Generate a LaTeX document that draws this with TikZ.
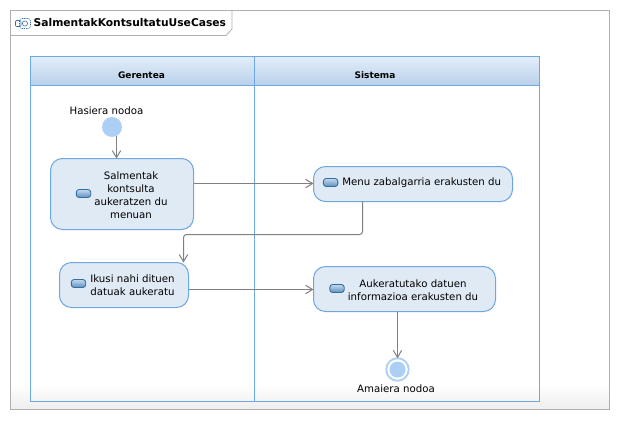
\documentclass[tikz,border=0pt]{standalone}
\usepackage{fontspec}
\setmainfont{DejaVu Sans}
\usetikzlibrary{arrows.meta,shadings,calc}
\definecolor{laneblue}{HTML}{6FA7E0}
\definecolor{boxfill}{HTML}{E0EAF5}
\definecolor{flowgray}{HTML}{808080}
\definecolor{framegray}{HTML}{B0B0B0}
\definecolor{nodeblue}{HTML}{ABCFF5}
\definecolor{headtop}{HTML}{E2EEFA}
\definecolor{headbot}{HTML}{B9D1EA}
\definecolor{pilltop}{HTML}{C6D9EB}
\definecolor{pillbot}{HTML}{5E90BC}
\definecolor{pillline}{HTML}{2F6FA8}
\definecolor{iconblue}{HTML}{3A6EA8}
\tikzset{
  x=1pt,y=-1pt,
  actbox/.style={draw=laneblue,fill=boxfill,line width=1pt,rounded corners=12pt,rectangle,inner sep=0pt,outer sep=0pt},
  acttext/.style={font=\fontsize{10.2}{13}\selectfont,align=center,inner sep=0pt,text=black},
  flow/.style={draw=flowgray,line width=1pt,rounded corners=3pt,-{Straight Barb[length=7pt,width=8.5pt,line width=1pt]}},
  pill/.style={rectangle,rounded corners=2.8pt,minimum width=14.4pt,minimum height=8pt,inner sep=0pt,draw=pillline,line width=0.9pt,top color=pilltop,bottom color=pillbot},
  lanehead/.style={font=\fontsize{9}{12}\bfseries\selectfont,inner sep=0pt},
}
\begin{document}
\begin{tikzpicture}
\useasboundingbox (0,0) rectangle (620,420);
\fill[white] (0,0) rectangle (620,420);
% frame
\shade[top color=white,bottom color=black!7] (10.5,385) rectangle (609,409.5);
\draw[framegray,line width=1pt] (10.5,10.5) rectangle (609,409.5);
\draw[framegray,line width=0.8pt,fill=white] (10.5,10.5) -- (232,10.5) -- (232,29) -- (226,35.5) -- (10.5,35.5) -- cycle;
% title icon
\draw[iconblue,line width=0.6pt,dash pattern=on 1pt off 0.8pt,rounded corners=2.5pt] (19.5,18.5) rectangle (30.5,28.5);
\draw[iconblue,line width=0.6pt,rounded corners=1pt] (15.5,20.5) rectangle (21,26.5);
\draw[iconblue,line width=0.6pt] (25,23.5) circle (2.6);
\node[font=\fontsize{10.7}{13}\bfseries\selectfont,anchor=west,inner sep=0pt] (title) at (33.5,23) {SalmentakKontsultatuUseCases};
% lanes
\shade[top color=headtop,bottom color=headbot] (30.5,56.5) rectangle (539.5,85.5);
\draw[laneblue,line width=1pt] (30.5,56.5) rectangle (539.5,401.5);
\draw[laneblue,line width=1pt] (30.5,85.5) -- (539.5,85.5);
\draw[laneblue,line width=1pt] (254.5,56.5) -- (254.5,401.5);
\node[lanehead] (lane1) at (141.5,75) {Gerentea};
\node[lanehead] (lane2) at (375,75) {Sistema};
% nodes
\node[circle,fill=nodeblue,minimum size=20pt,inner sep=0pt,outer sep=0pt] (start) at (112,127) {};
\node[acttext] (startlabel) at (106.5,111) {Hasiera nodoa};
\node[actbox,minimum width=143pt,minimum height=71pt] (A) at (122,194) {};
\node[actbox,minimum width=129pt,minimum height=45pt] (C) at (124,285) {};
\node[actbox,minimum width=199pt,minimum height=35pt] (B) at (413,184) {};
\node[actbox,minimum width=182pt,minimum height=45pt] (D) at (404.5,289) {};
\node[acttext] (Atext) at (131,195.5) {Salmentak\\kontsulta\\aukeratzen du\\menuan};
\node[acttext] (Ctext) at (132.5,285.5) {Ikusi nahi dituen\\datuak aukeratu};
\node[acttext] (Btext) at (421.7,183) {Menu zabalgarria erakusten du};
\node[acttext] (Dtext) at (413,290.5) {Aukeratutako datuen\\informazioa erakusten du};
\node[pill] (Ai) at (83.5,193.5) {};
\node[pill] (Ci) at (78.5,283.5) {};
\node[pill] (Bi) at (330.6,182.5) {};
\node[pill] (Di) at (337,288.5) {};
\node[circle,draw=nodeblue,fill=white,line width=1.8pt,minimum size=22.5pt,inner sep=0pt,outer sep=0pt] (end) at (397.5,369.5) {};
\node[circle,fill=nodeblue,minimum size=16pt,inner sep=0pt] (endin) at (397.5,369.5) {};
\node[acttext] (endlabel) at (396,389) {Amaiera nodoa};
% connectors
\coordinate (sdrop) at (116.5,127);
\coordinate (bdrop) at (362.5,234.5);
\coordinate (cdrop) at (183.5,234.5);
\coordinate (abin) at ([yshift=0.5pt]B.west);
\coordinate (cdin) at ([yshift=-0.5pt]D.west);
\draw[flow] (sdrop |- start.south) ++(0,-1) -- (sdrop |- A.north);
\draw[flow] (A.east |- abin) -- (abin);
\draw[flow] (bdrop |- B.south) -- (bdrop) -- (cdrop) -- (cdrop |- C.north);
\draw[flow] (C.east |- cdin) -- (cdin);
\draw[flow] (D.south -| end.north) -- (end.north);
\end{tikzpicture}
\end{document}
